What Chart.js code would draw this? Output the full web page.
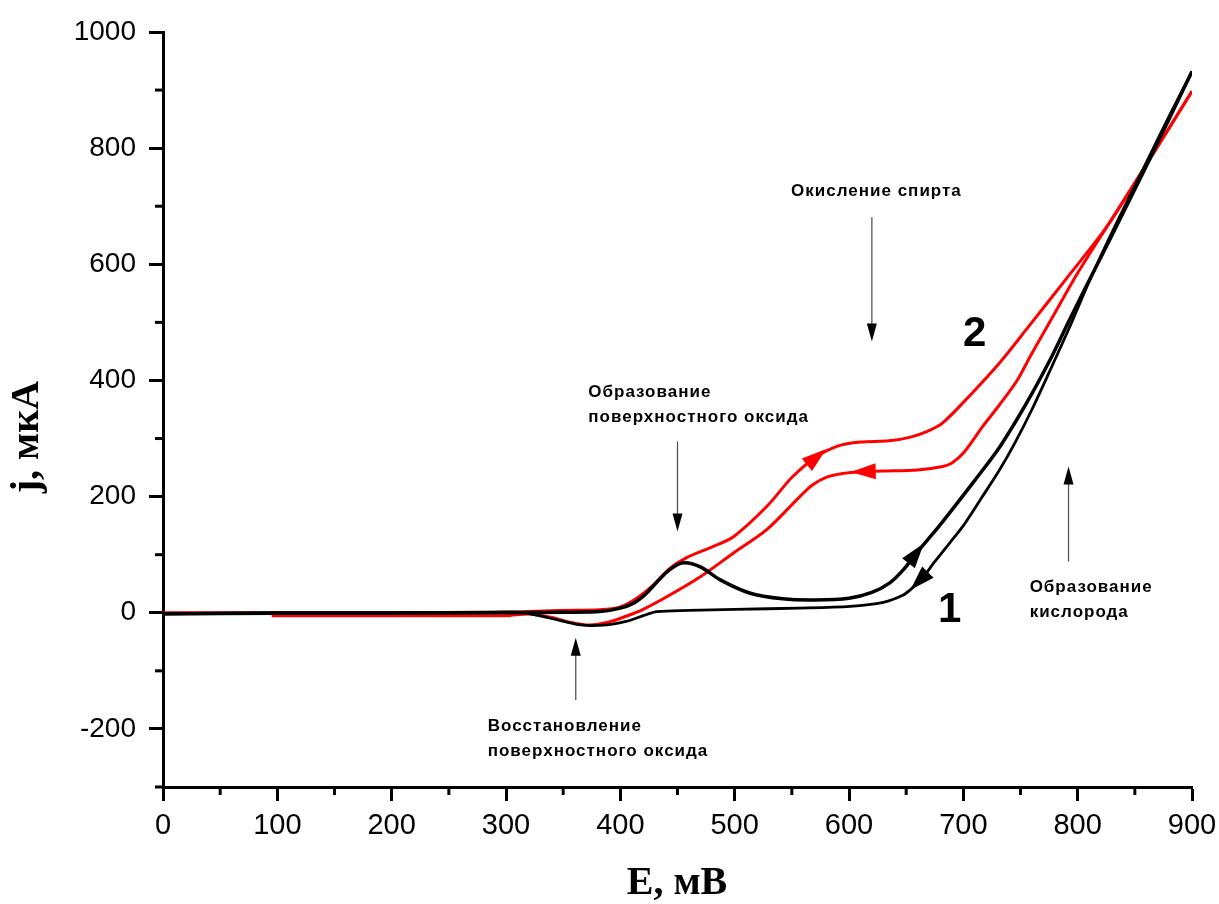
<!DOCTYPE html>
<html>
<head>
<meta charset="utf-8">
<script src="https://cdn.jsdelivr.net/npm/chart.js@4.4.0/dist/chart.umd.min.js"></script>
<style>
  html, body { margin: 0; background: #fff; }
  #wrap { width: 1219px; height: 904px; }
</style>
</head>
<body>
<div id="wrap"><canvas id="cv"></canvas></div>
<script>
// curve 1 (black), forward and reverse scan
const blackFwdE = [0, 100, 200, 300, 350, 382, 400, 412, 422, 432, 443, 455, 470, 487, 513, 542, 570, 600, 620, 636, 648, 659, 675, 688, 710, 732, 755, 776, 793, 810, 830, 863, 900];
const blackFwdJ = [-2, -1, -1, 0, 1, 2, 8, 17, 32, 53, 74, 86, 79, 57, 34, 24, 22, 25, 35, 52, 75, 103, 140, 172, 228, 286, 360, 436, 505, 572, 650, 781, 932];
const blackRevE = [900, 880, 860, 830, 810, 793, 776, 760, 745, 732, 715, 700, 688, 675, 665, 655, 647, 630, 601, 557, 500, 460, 432, 420, 405, 388, 365, 338, 312, 290, 200, 100, 0];
const blackRevJ = [932, 855, 775, 655, 570, 492, 418, 350, 292, 247, 195, 150, 120, 88, 62, 42, 30, 18, 11, 8, 6, 4, 2, -5, -15, -21, -21, -9, 1, 1, 0, 0, -1];

// curve 2 (red), forward and reverse scan
const redFwdE = [0, 100, 200, 300, 347, 382, 400, 415, 429, 443, 458, 481, 499, 528, 551, 572, 590, 610, 635, 653, 668, 682, 708, 732, 756, 790, 826, 863, 900];
const redFwdJ = [0, 0, 0, 1, 4, 5, 10, 26, 48, 76, 95, 114, 131, 183, 235, 269, 287, 294, 296, 302, 312, 327, 379, 431, 490, 575, 666, 781, 898];
const redRevE = [900, 863, 826, 800, 776, 760, 747, 732, 717, 700, 690, 682, 660, 630, 610, 595, 581, 568, 557, 528, 499, 470, 441, 420, 405, 390, 373, 355, 340, 320, 300, 200, 95];
const redRevJ = [898, 781, 666, 585, 502, 447, 400, 359, 321, 275, 258, 252, 246, 244, 243, 240, 234, 220, 200, 143, 103, 62, 28, 6, -6, -16, -21, -16, -8, -2, -5, -5, -5];

// axis ticks
const xTicks = [0, 100, 200, 300, 400, 500, 600, 700, 800, 900];
const xMinor = [50, 150, 250, 350, 450, 550, 650, 750, 850];
const yTicks = [-200, 0, 200, 400, 600, 800, 1000];
const yMinor = [-300, -100, 100, 300, 500, 700, 900];

// scan direction arrows on the curves (series label, potential)
const curveArrows = [
  { series: 'blackFwd', e: 659 },
  { series: 'blackRev', e: 661 },
  { series: 'redFwd', e: 572 },
  { series: 'redRev', e: 612 }
];

// text notes and pointer arrows, in data units
const notes = [
  { lines: ['Окисление спирта'], e: 624, j: 717, align: 'center' },
  { lines: ['Образование', 'поверхностного оксида'], e: 372, j: 371, align: 'left' },
  { lines: ['Восстановление', 'поверхностного оксида'], e: 284, j: -203, align: 'left' },
  { lines: ['Образование', 'кислорода'], e: 758, j: 36, align: 'left' }
];
const pointers = [
  { e: 620, from: 681, to: 467 },
  { e: 450, from: 295, to: 140 },
  { e: 361, from: -150, to: -43 },
  { e: 792, from: 88, to: 252 }
];
const curveLabels = [
  { text: '1', e: 688, j: -16 },
  { text: '2', e: 710, j: 459 }
];

const SANS = '"Liberation Sans", Arial, sans-serif';
const SERIF = '"Liberation Serif", "Times New Roman", serif';

const pts = (es, js) => es.map((e, i) => ({ x: e, y: js[i] }));

function head(ctx, tx, ty, dx, dy, len, hw) {
  const bx = tx - dx * len, by = ty - dy * len;
  ctx.beginPath();
  ctx.moveTo(tx, ty);
  ctx.lineTo(bx - dy * hw, by + dx * hw);
  ctx.lineTo(bx + dy * hw, by - dx * hw);
  ctx.closePath();
  ctx.fill();
}

const overlay = {
  id: 'overlay',
  afterDatasetsDraw(chart) {
    const { ctx, chartArea: a, scales: { x, y } } = chart;
    ctx.save();

    // minor ticks
    ctx.strokeStyle = '#000';
    ctx.lineWidth = 3;
    xMinor.forEach(v => {
      const px = x.getPixelForValue(v);
      ctx.beginPath(); ctx.moveTo(px, a.bottom); ctx.lineTo(px, a.bottom + 8); ctx.stroke();
    });
    yMinor.forEach(v => {
      const py = y.getPixelForValue(v);
      ctx.beginPath(); ctx.moveTo(a.left - 8, py); ctx.lineTo(a.left, py); ctx.stroke();
    });

    // arrows along the scans
    curveArrows.forEach(ar => {
      const ds = chart.data.datasets.find(d => d.label === ar.series);
      const d = ds.data;
      for (let i = 0; i < d.length - 1; i++) {
        if ((ar.e - d[i].x) * (ar.e - d[i + 1].x) > 0) continue;
        const t = (ar.e - d[i].x) / (d[i + 1].x - d[i].x);
        const x0 = x.getPixelForValue(d[i].x), y0 = y.getPixelForValue(d[i].y);
        const x1 = x.getPixelForValue(d[i + 1].x), y1 = y.getPixelForValue(d[i + 1].y);
        const px = x0 + (x1 - x0) * t, py = y0 + (y1 - y0) * t;
        const L = Math.hypot(x1 - x0, y1 - y0);
        const dx = (x1 - x0) / L, dy = (y1 - y0) / L;
        ctx.fillStyle = ds.borderColor;
        head(ctx, px + dx * 12, py + dy * 12, dx, dy, 25, 8);
        break;
      }
    });

    // pointer arrows
    pointers.forEach(p => {
      const px = x.getPixelForValue(p.e);
      const y0 = y.getPixelForValue(p.from), y1 = y.getPixelForValue(p.to);
      const dir = Math.sign(y1 - y0);
      ctx.strokeStyle = '#555';
      ctx.lineWidth = 1.3;
      ctx.beginPath(); ctx.moveTo(px, y0); ctx.lineTo(px, y1 - dir * 14); ctx.stroke();
      ctx.fillStyle = '#000';
      head(ctx, px, y1, 0, dir, 18, 5);
    });

    // notes
    ctx.fillStyle = '#000';
    ctx.font = 'bold 17px ' + SANS;
    ctx.letterSpacing = '1px';
    ctx.textBaseline = 'alphabetic';
    notes.forEach(n => {
      ctx.textAlign = n.align;
      const px = x.getPixelForValue(n.e), py = y.getPixelForValue(n.j);
      n.lines.forEach((s, k) => ctx.fillText(s, px, py + k * 25));
    });
    ctx.letterSpacing = '0px';

    // curve numbers
    ctx.font = 'bold 42px ' + SANS;
    ctx.textAlign = 'center';
    curveLabels.forEach(c => ctx.fillText(c.text, x.getPixelForValue(c.e), y.getPixelForValue(c.j)));

    // axis titles
    ctx.font = 'bold 40px ' + SERIF;
    ctx.textBaseline = 'middle';
    ctx.fillText('E, мВ', 677, 884);
    ctx.translate(28, 437);
    ctx.rotate(-Math.PI / 2);
    ctx.fillText('j, мкА', 0, 0);

    ctx.restore();
  }
};

const line = (label, es, js, color, width) => ({
  label, data: pts(es, js), borderColor: color, borderWidth: width,
  showLine: true, pointRadius: 0, tension: 0.3, fill: false
});

new Chart(document.getElementById('cv'), {
  type: 'scatter',
  data: {
    datasets: [
      line('blackFwd', blackFwdE, blackFwdJ, '#000000', 3.5),
      line('blackRev', blackRevE, blackRevJ, '#000000', 2.8),
      line('redFwd', redFwdE, redFwdJ, '#ff0000', 3),
      line('redRev', redRevE, redRevJ, '#ff0000', 3)
    ]
  },
  options: {
    responsive: true,
    maintainAspectRatio: false,
    animation: false,
    layout: { padding: { top: 32, right: 27, left: 0, bottom: 0 } },
    plugins: { legend: { display: false }, tooltip: { enabled: false } },
    scales: {
      x: {
        type: 'linear', min: 0, max: 900,
        afterBuildTicks: s => { s.ticks = xTicks.map(v => ({ value: v })); },
        afterFit: s => { s.height = 117; s.paddingLeft = 0; s.paddingRight = 0; },
        border: { display: true, width: 3, color: '#000' },
        grid: { drawOnChartArea: false, drawTicks: true, tickLength: 14, tickWidth: 3, tickColor: '#000' },
        ticks: { color: '#000', font: { family: SANS, size: 29 }, padding: 8, maxRotation: 0, autoSkip: false, callback: v => String(v) }
      },
      y: {
        type: 'linear', min: -300, max: 1000,
        afterBuildTicks: s => { s.ticks = yTicks.map(v => ({ value: v })); },
        afterFit: s => { s.width = 163; s.paddingTop = 0; s.paddingBottom = 0; },
        border: { display: true, width: 3, color: '#000' },
        grid: { drawOnChartArea: false, drawTicks: true, tickLength: 14, tickWidth: 3, tickColor: '#000' },
        ticks: { color: '#000', font: { family: SANS, size: 28 }, padding: 13, autoSkip: false, callback: v => String(v) }
      }
    }
  },
  plugins: [overlay]
});
</script>
</body>
</html>
